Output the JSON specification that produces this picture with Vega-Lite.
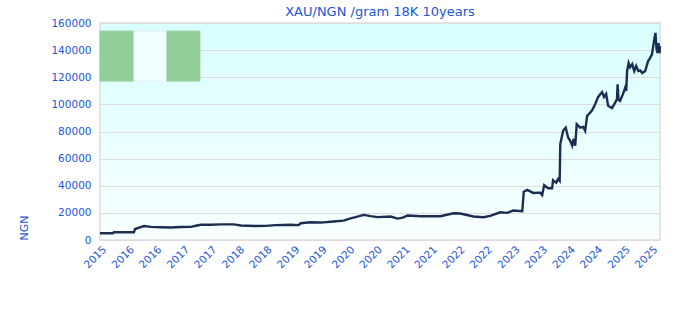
{
  "$schema": "https://vega.github.io/schema/vega-lite/v6.json",
  "autosize": {"type": "none"},
  "width": 560,
  "height": 217,
  "padding": {"left": 100, "top": 23, "right": 20, "bottom": 80},
  "background": "white",
  "title": {"text": "XAU/NGN /gram 18K 10years", "font": "DejaVu Sans", "fontSize": 13, "fontWeight": "normal", "color": "#1a55d6", "anchor": "middle", "frame": "group", "offset": -1},
  "config": {
    "view": {"stroke": "#dddddd", "strokeWidth": 1.5, "fill": {"gradient": "linear", "x1": 0, "y1": 0, "x2": 0, "y2": 1, "stops": [{"offset": 0, "color": "#d9ffff"}, {"offset": 1, "color": "#f9ffff"}]}},
    "axis": {"labelFont": "DejaVu Sans", "labelFontSize": 10.5, "labelColor": "#1a55d6", "titleFont": "DejaVu Sans", "titleFontSize": 11, "titleColor": "#1a55d6", "titleFontWeight": "normal", "ticks": false, "domain": false, "gridColor": "#dddddd", "gridWidth": 1.2, "labelOverlap": false}
  },
  "datasets": {
    "price": [
      {"date": "2015-06-25", "v": 5000}, {"date": "2015-09-19", "v": 5000}, {"date": "2015-09-25", "v": 5700}, {"date": "2016-02-05", "v": 5700},
      {"date": "2016-02-12", "v": 8100}, {"date": "2016-03-09", "v": 9200}, {"date": "2016-04-12", "v": 10300}, {"date": "2016-05-28", "v": 9700},
      {"date": "2016-08-02", "v": 9400}, {"date": "2016-10-07", "v": 9200}, {"date": "2016-12-12", "v": 9550}, {"date": "2017-02-17", "v": 9700},
      {"date": "2017-03-29", "v": 10700}, {"date": "2017-04-24", "v": 11200}, {"date": "2017-06-29", "v": 11200}, {"date": "2017-09-03", "v": 11550},
      {"date": "2017-11-28", "v": 11550}, {"date": "2018-01-14", "v": 10700}, {"date": "2018-04-22", "v": 10300}, {"date": "2018-06-27", "v": 10400},
      {"date": "2018-09-02", "v": 11000}, {"date": "2018-12-10", "v": 11200}, {"date": "2019-02-01", "v": 11000}, {"date": "2019-02-14", "v": 12350},
      {"date": "2019-04-21", "v": 13100}, {"date": "2019-06-26", "v": 12850}, {"date": "2019-09-20", "v": 13600}, {"date": "2019-11-25", "v": 14300},
      {"date": "2020-01-11", "v": 16000}, {"date": "2020-02-13", "v": 16900}, {"date": "2020-04-07", "v": 18500}, {"date": "2020-05-23", "v": 17600},
      {"date": "2020-07-08", "v": 16900}, {"date": "2020-10-02", "v": 17300}, {"date": "2020-11-18", "v": 15800}, {"date": "2020-12-21", "v": 16500},
      {"date": "2021-01-23", "v": 18000}, {"date": "2021-04-19", "v": 17500}, {"date": "2021-08-29", "v": 17500}, {"date": "2021-11-23", "v": 19700},
      {"date": "2022-01-08", "v": 19500}, {"date": "2022-04-04", "v": 17300}, {"date": "2022-06-09", "v": 16800}, {"date": "2022-07-25", "v": 17800},
      {"date": "2022-09-29", "v": 20400}, {"date": "2022-11-14", "v": 20000}, {"date": "2022-12-24", "v": 21700}, {"date": "2023-02-22", "v": 21200},
      {"date": "2023-03-04", "v": 35600}, {"date": "2023-03-27", "v": 36900}, {"date": "2023-05-06", "v": 34700}, {"date": "2023-06-21", "v": 34900},
      {"date": "2023-07-04", "v": 33200}, {"date": "2023-07-17", "v": 40400}, {"date": "2023-08-12", "v": 38200}, {"date": "2023-09-08", "v": 38200},
      {"date": "2023-09-14", "v": 44100}, {"date": "2023-10-05", "v": 42300}, {"date": "2023-10-18", "v": 45000}, {"date": "2023-10-28", "v": 43700},
      {"date": "2023-11-01", "v": 70700}, {"date": "2023-11-20", "v": 80500}, {"date": "2023-12-07", "v": 82900}, {"date": "2023-12-23", "v": 75600},
      {"date": "2024-01-06", "v": 73100}, {"date": "2024-01-19", "v": 69500}, {"date": "2024-01-29", "v": 74600}, {"date": "2024-02-08", "v": 69500},
      {"date": "2024-02-18", "v": 85400}, {"date": "2024-03-12", "v": 82900}, {"date": "2024-04-01", "v": 83400}, {"date": "2024-04-14", "v": 80500},
      {"date": "2024-04-27", "v": 91500}, {"date": "2024-05-30", "v": 95700}, {"date": "2024-06-19", "v": 100100}, {"date": "2024-07-09", "v": 105500},
      {"date": "2024-08-04", "v": 109100}, {"date": "2024-08-17", "v": 105500}, {"date": "2024-08-31", "v": 107700}, {"date": "2024-09-13", "v": 98900},
      {"date": "2024-10-09", "v": 97200}, {"date": "2024-10-29", "v": 101100}, {"date": "2024-11-11", "v": 104000}, {"date": "2024-11-15", "v": 114800},
      {"date": "2024-11-21", "v": 103300}, {"date": "2024-12-01", "v": 102500}, {"date": "2024-12-21", "v": 107700}, {"date": "2025-01-04", "v": 112300},
      {"date": "2025-01-11", "v": 109900}, {"date": "2025-01-17", "v": 124600}, {"date": "2025-01-27", "v": 130500}, {"date": "2025-02-06", "v": 127500},
      {"date": "2025-02-20", "v": 129700}, {"date": "2025-03-05", "v": 124600}, {"date": "2025-03-18", "v": 128300}, {"date": "2025-04-01", "v": 124600},
      {"date": "2025-04-14", "v": 125100}, {"date": "2025-04-27", "v": 123100}, {"date": "2025-05-17", "v": 124600}, {"date": "2025-06-05", "v": 131900},
      {"date": "2025-06-18", "v": 134100}, {"date": "2025-07-01", "v": 136900}, {"date": "2025-07-14", "v": 146600}, {"date": "2025-07-24", "v": 152700},
      {"date": "2025-07-31", "v": 140800}, {"date": "2025-08-07", "v": 138000}, {"date": "2025-08-13", "v": 145200}, {"date": "2025-08-20", "v": 137800},
      {"date": "2025-08-23", "v": 143000}
    ],
    "boxes": [
      {"start": "2015-06-25", "end": "2016-02-05", "lo": 117200, "hi": 154000, "kind": "green"},
      {"start": "2016-02-05", "end": "2016-09-11", "lo": 117200, "hi": 154000, "kind": "pale"},
      {"start": "2016-09-11", "end": "2017-04-17", "lo": 117200, "hi": 154000, "kind": "green"}
    ]
  },
  "encoding": {
    "x": {"field": "date", "type": "temporal", "title": null,
      "scale": {"domain": [{"year": 2015, "month": 6, "date": 25}, {"year": 2025, "month": 8, "date": 23}]},
      "axis": {"grid": false, "format": "%Y", "labelAngle": -45, "labelPadding": 4,
        "values": [{"year": 2015, "month": 7, "date": 1}, {"year": 2016, "month": 1, "date": 1}, {"year": 2016, "month": 7, "date": 1}, {"year": 2017, "month": 1, "date": 1}, {"year": 2017, "month": 7, "date": 1}, {"year": 2018, "month": 1, "date": 1}, {"year": 2018, "month": 7, "date": 1}, {"year": 2019, "month": 1, "date": 1}, {"year": 2019, "month": 7, "date": 1}, {"year": 2020, "month": 1, "date": 1}, {"year": 2020, "month": 7, "date": 1}, {"year": 2021, "month": 1, "date": 1}, {"year": 2021, "month": 7, "date": 1}, {"year": 2022, "month": 1, "date": 1}, {"year": 2022, "month": 7, "date": 1}, {"year": 2023, "month": 1, "date": 1}, {"year": 2023, "month": 7, "date": 1}, {"year": 2024, "month": 1, "date": 1}, {"year": 2024, "month": 7, "date": 1}, {"year": 2025, "month": 1, "date": 1}, {"year": 2025, "month": 7, "date": 1}]}}
  },
  "layer": [
    {
      "data": {"name": "boxes"},
      "mark": {"type": "rect", "strokeWidth": 1},
      "encoding": {
        "x": {"field": "start", "type": "temporal"},
        "x2": {"field": "end"},
        "y": {"field": "lo", "type": "quantitative", "title": "NGN",
          "scale": {"domain": [0, 160000]},
          "axis": {"values": [0, 20000, 40000, 60000, 80000, 100000, 120000, 140000, 160000], "format": "d", "titleAnchor": "start", "titlePadding": 21, "labelPadding": 9}},
        "y2": {"field": "hi"},
        "fill": {"field": "kind", "type": "nominal", "scale": {"domain": ["green", "pale"], "range": ["#93ce99", "#f0ffff"]}, "legend": null},
        "stroke": {"field": "kind", "type": "nominal", "scale": {"domain": ["green", "pale"], "range": ["#93ce99", "#e2eeee"]}, "legend": null}
      }
    },
    {
      "data": {"name": "price"},
      "mark": {"type": "line", "color": "#1b2e50", "strokeWidth": 2.4, "interpolate": "linear"},
      "encoding": {
        "x": {"field": "date", "type": "temporal"},
        "y": {"field": "v", "type": "quantitative", "title": "NGN",
          "scale": {"domain": [0, 160000]},
          "axis": {"values": [0, 20000, 40000, 60000, 80000, 100000, 120000, 140000, 160000], "format": "d", "titleAnchor": "start", "titlePadding": 21, "labelPadding": 9}}
      }
    }
  ]
}
